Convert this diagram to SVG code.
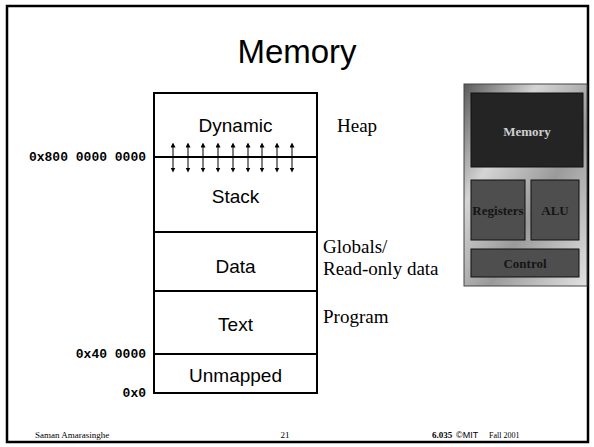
<svg xmlns="http://www.w3.org/2000/svg" width="594" height="447" viewBox="0 0 594 447">
<style>
.sans{font-family:"Liberation Sans",Arial,sans-serif}
.serif{font-family:"Liberation Serif","Times New Roman",serif}
.mono{font-family:"Liberation Mono","Courier New",monospace;font-weight:bold;font-size:13px;text-anchor:end}
.seg{fill:#fff;stroke:#000;stroke-width:2}
.lbl{font-size:19px;text-anchor:middle}
.cpu{font-family:"Liberation Serif",serif;font-weight:bold;font-size:13px;text-anchor:middle}
.arr{stroke:#000;stroke-width:1;fill:none;marker-start:url(#ah);marker-end:url(#ah)}
</style>
<defs>
<marker id="ah" viewBox="0 0 6 6" refX="3" refY="3" markerWidth="5" markerHeight="5" orient="auto-start-reverse" markerUnits="userSpaceOnUse"><path d="M0,0 L6,3 L0,6 z" fill="#000"/></marker>
<linearGradient id="metal" x1="0" y1="0" x2="1" y2="1">
<stop offset="0" stop-color="#5a5a5a"/>
<stop offset="0.3" stop-color="#d5d5d5"/>
<stop offset="0.6" stop-color="#9a9a9a"/>
<stop offset="1" stop-color="#e2e2e2"/>
</linearGradient>
</defs>
<rect x="0" y="0" width="594" height="447" fill="#fff"/>
<rect x="7" y="6" width="581" height="436" fill="none" stroke="#000" stroke-width="2.5"/>
<text x="297" y="63" class="sans" font-size="33" text-anchor="middle">Memory</text>

<g id="memory-map">
<g id="seg-dynamic"><rect x="154" y="93" width="163" height="64" class="seg"/><text x="235.5" y="132" class="sans lbl">Dynamic</text></g>
<g id="seg-stack"><rect x="154" y="157" width="163" height="75" class="seg"/><text x="235.5" y="203" class="sans lbl">Stack</text></g>
<g id="seg-data"><rect x="154" y="232" width="163" height="59" class="seg"/><text x="235.5" y="273" class="sans lbl">Data</text></g>
<g id="seg-text"><rect x="154" y="291" width="163" height="63" class="seg"/><text x="235.5" y="331" class="sans lbl">Text</text></g>
<g id="seg-unmapped"><rect x="154" y="354" width="163" height="39" class="seg"/><text x="235.5" y="382" class="sans lbl">Unmapped</text></g>
</g>

<g id="connectors">
<path class="arr" d="M173,145 V170"/>
<path class="arr" d="M188,145 V170"/>
<path class="arr" d="M203,145 V170"/>
<path class="arr" d="M218,145 V170"/>
<path class="arr" d="M233,145 V170"/>
<path class="arr" d="M248,145 V170"/>
<path class="arr" d="M262,145 V170"/>
<path class="arr" d="M277,145 V170"/>
<path class="arr" d="M292,145 V170"/>
</g>

<g id="addresses">
<text x="146" y="161" class="mono">0x800 0000 0000</text>
<text x="146" y="358" class="mono">0x40 0000</text>
<text x="146" y="397" class="mono">0x0</text>
</g>

<g id="notes" class="serif" font-size="19">
<text x="337" y="132">Heap</text>
<text x="323" y="253">Globals/</text>
<text x="323" y="275">Read-only data</text>
<text x="323" y="323">Program</text>
</g>

<g id="cpu">
<rect x="464" y="84" width="123" height="202" fill="url(#metal)" stroke="#444" stroke-width="1"/>
<g id="cpu-memory"><rect x="471" y="93" width="112" height="74" fill="#242424" stroke="#111"/><text x="527" y="136" class="cpu" fill="#cfcfcf">Memory</text></g>
<g id="cpu-registers"><rect x="471" y="180" width="54" height="60" fill="#4e4e4e" stroke="#111"/><text x="498" y="215" class="cpu" fill="#151515">Registers</text></g>
<g id="cpu-alu"><rect x="531" y="180" width="48" height="60" fill="#4e4e4e" stroke="#111"/><text x="555" y="215" class="cpu" fill="#151515">ALU</text></g>
<g id="cpu-control"><rect x="471" y="249" width="108" height="28" fill="#4e4e4e" stroke="#111"/><text x="525" y="268" class="cpu" fill="#151515">Control</text></g>
</g>

<g id="footer" font-size="9">
<text x="35" y="438" class="serif">Saman Amarasinghe</text>
<text x="285" y="438" class="serif" text-anchor="middle">21</text>
<text x="432" y="438" class="serif" font-weight="bold">6.035</text>
<text x="456" y="438" class="sans">©MIT</text>
<text x="489" y="438" class="serif" font-size="8">Fall 2001</text>
</g>
</svg>
